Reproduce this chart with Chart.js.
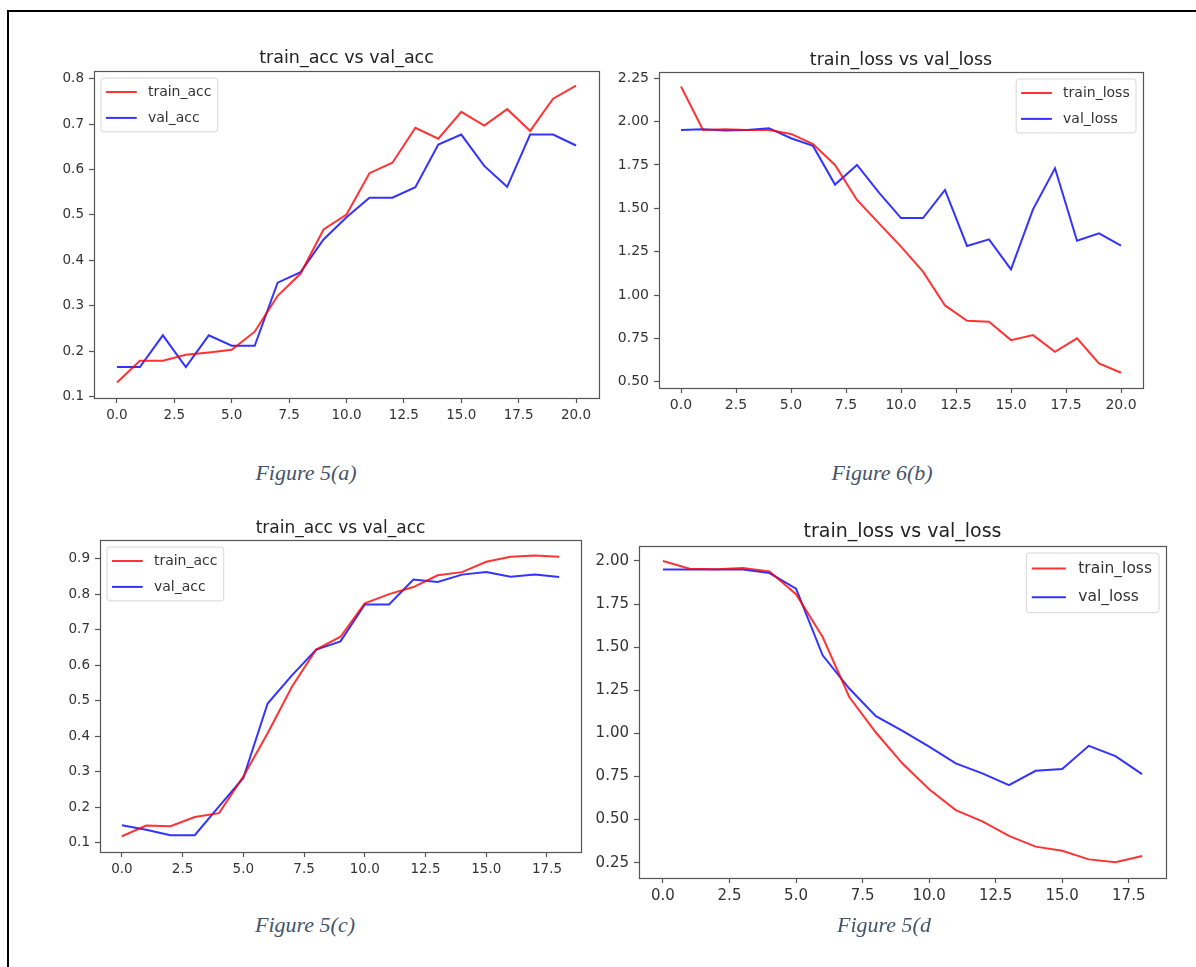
<!DOCTYPE html>
<html>
<head>
<meta charset="utf-8">
<script src="https://cdn.jsdelivr.net/npm/chart.js@4.4.1/dist/chart.umd.min.js"></script>
<style>
  body { margin: 0; background: #fff; width: 1196px; height: 967px; overflow: hidden; position: relative; }
  .frame { position: absolute; left: 7px; top: 10px; width: 1300px; height: 1100px;
           border-top: 2px solid #000; border-left: 2px solid #000; }
  canvas { position: absolute; }
  .cap { position: absolute; width: 300px; text-align: center; line-height: 30px;
         font-family: "Liberation Serif", "Times New Roman", serif; font-style: italic;
         font-size: 22px; color: #44546a; }
</style>
</head>
<body>
<div class="frame"></div>

<canvas id="c1"></canvas>
<canvas id="c2"></canvas>
<canvas id="c3"></canvas>
<canvas id="c4"></canvas>

<div class="cap" style="left:156px; top:458px;">Figure 5(a)</div>
<div class="cap" style="left:732px; top:458px;">Figure 6(b)</div>
<div class="cap" style="left:155px; top:910px;">Figure 5(c)</div>
<div class="cap" style="left:734px; top:910px;">Figure 5(d</div>

<script>
// ---- data ----
const epochs21 = [0, 1, 2, 3, 4, 5, 6, 7, 8, 9, 10, 11, 12, 13, 14, 15, 16, 17, 18, 19, 20]
const epochs19 = [0, 1, 2, 3, 4, 5, 6, 7, 8, 9, 10, 11, 12, 13, 14, 15, 16, 17, 18]

// figure 5(a)
const trainAccA = [0.131, 0.179, 0.179, 0.192, 0.197, 0.203, 0.243, 0.322, 0.371, 0.468, 0.501,
                   0.592, 0.615, 0.692, 0.668, 0.727, 0.697, 0.733, 0.685, 0.756, 0.785]
const valAccA   = [0.165, 0.165, 0.235, 0.165, 0.235, 0.212, 0.212, 0.351, 0.374, 0.446, 0.495,
                   0.538, 0.538, 0.561, 0.655, 0.677, 0.608, 0.562, 0.677, 0.677, 0.653]

// figure 6(b)
const trainLossB = [2.202, 1.952, 1.956, 1.952, 1.952, 1.929, 1.871, 1.750, 1.548, 1.413, 1.279,
                    1.135, 0.940, 0.852, 0.846, 0.740, 0.769, 0.673, 0.750, 0.606, 0.552]
const valLossB   = [1.952, 1.956, 1.948, 1.952, 1.962, 1.904, 1.860, 1.637, 1.750, 1.590, 1.444,
                    1.444, 1.606, 1.283, 1.321, 1.148, 1.494, 1.731, 1.313, 1.356, 1.285]

// figure 5(c)
const trainAccC = [0.119, 0.149, 0.147, 0.173, 0.184, 0.287, 0.409, 0.540, 0.645, 0.681,
                   0.775, 0.801, 0.821, 0.854, 0.863, 0.892, 0.906, 0.910, 0.906]
const valAccC   = [0.150, 0.137, 0.122, 0.122, 0.203, 0.283, 0.493, 0.572, 0.645, 0.668,
                   0.772, 0.772, 0.842, 0.835, 0.856, 0.863, 0.850, 0.856, 0.849]

// figure 5(d
const trainLossD = [2.000, 1.955, 1.952, 1.960, 1.940, 1.807, 1.559, 1.211, 1.005, 0.825,
                    0.676, 0.555, 0.490, 0.405, 0.343, 0.319, 0.269, 0.252, 0.289]
const valLossD   = [1.950, 1.950, 1.950, 1.950, 1.930, 1.840, 1.453, 1.260, 1.100, 1.015,
                    0.923, 0.826, 0.768, 0.700, 0.783, 0.793, 0.928, 0.868, 0.764]

// tick labels
const xTicks20 = [0, 2.5, 5, 7.5, 10, 12.5, 15, 17.5, 20]
const xTicks18 = [0, 2.5, 5, 7.5, 10, 12.5, 15, 17.5]
const yTicksAccA = [0.1, 0.2, 0.3, 0.4, 0.5, 0.6, 0.7, 0.8]
const yTicksAccC = [0.1, 0.2, 0.3, 0.4, 0.5, 0.6, 0.7, 0.8, 0.9]
const yTicksLossB = [0.50, 0.75, 1.00, 1.25, 1.50, 1.75, 2.00, 2.25]
const yTicksLossD = [0.25, 0.50, 0.75, 1.00, 1.25, 1.50, 1.75, 2.00]

const RED = 'rgba(255, 0, 0, 0.8)'
const BLUE = 'rgba(0, 0, 255, 0.8)'

Chart.defaults.font.family = '"DejaVu Sans", sans-serif'
Chart.defaults.color = '#333'

// matplotlib-like box round the axes + legend inside the plot
const mplBox = {
	id: 'mplBox',
	afterDatasetsDraw(chart, args, opts) {
		const {ctx, chartArea: a} = chart
		ctx.save()
		ctx.strokeStyle = '#555'
		ctx.lineWidth = 1.2
		ctx.strokeRect(Math.round(a.left) + 0.5, Math.round(a.top) + 0.5,
			Math.round(a.right - a.left), Math.round(a.bottom - a.top))

		const f = opts.size
		ctx.font = f + 'px "DejaVu Sans"'
		const sets = chart.data.datasets
		const textW = Math.max(...sets.map(d => ctx.measureText(d.label).width))
		const pad = 0.35 * f, hl = 2.2 * f, gap = 0.8 * f, rowH = 1.3 * f, sp = 0.55 * f
		const w = pad * 2 + hl + gap + textW + 0.1 * f
		const h = pad * 2 + sets.length * rowH + (sets.length - 1) * sp
		const x = opts.corner === 'right' ? a.right - opts.inset - w : a.left + opts.inset
		const y = a.top + opts.inset
		const r = 3
		ctx.beginPath()
		ctx.moveTo(x + r, y)
		ctx.lineTo(x + w - r, y)
		ctx.arcTo(x + w, y, x + w, y + r, r)
		ctx.lineTo(x + w, y + h - r)
		ctx.arcTo(x + w, y + h, x + w - r, y + h, r)
		ctx.lineTo(x + r, y + h)
		ctx.arcTo(x, y + h, x, y + h - r, r)
		ctx.lineTo(x, y + r)
		ctx.arcTo(x, y, x + r, y, r)
		ctx.closePath()
		ctx.fillStyle = 'rgba(255,255,255,0.8)'
		ctx.fill()
		ctx.strokeStyle = '#d6d6d6'
		ctx.lineWidth = 1
		ctx.stroke()

		sets.forEach((d, i) => {
			const cy = y + pad + rowH / 2 + i * (rowH + sp)
			ctx.strokeStyle = d.borderColor
			ctx.lineWidth = 2
			ctx.beginPath()
			ctx.moveTo(x + pad, cy)
			ctx.lineTo(x + pad + hl, cy)
			ctx.stroke()
			ctx.fillStyle = '#333'
			ctx.textBaseline = 'middle'
			ctx.textAlign = 'left'
			ctx.fillText(d.label, x + pad + hl + gap, cy)
		})
		ctx.restore()
	}
}

function makeChart(id, g, cfg) {
	const yw = 55, xh = 32, padR = 14, head = 45
	const canvas = document.getElementById(id)
	const top = g.T - head
	const left = g.L - yw
	const width = g.R - g.L + yw + padR
	const height = g.B + xh - top
	canvas.width = width
	canvas.height = height
	canvas.style.left = left + 'px'
	canvas.style.top = top + 'px'
	canvas.style.width = width + 'px'
	canvas.style.height = height + 'px'

	const lineH = g.titleSize * 1.2
	const padTop = g.titleY - top - lineH / 2
	const padBottom = head - padTop - lineH

	const tickGrid = {
		display: true, drawOnChartArea: false, drawTicks: true,
		tickLength: 5, tickColor: '#555', tickWidth: 1.2
	}

	return new Chart(canvas.getContext('2d'), {
		type: 'line',
		data: {
			datasets: [
				{ label: cfg.names[0], data: cfg.x.map((e, i) => ({x: e, y: cfg.series[0][i]})),
				  borderColor: RED, borderWidth: 2, pointRadius: 0, tension: 0 },
				{ label: cfg.names[1], data: cfg.x.map((e, i) => ({x: e, y: cfg.series[1][i]})),
				  borderColor: BLUE, borderWidth: 2, pointRadius: 0, tension: 0 }
			]
		},
		options: {
			responsive: false,
			animation: false,
			layout: { padding: { left: 0, right: padR, top: 0, bottom: 0 } },
			plugins: {
				legend: { display: false },
				tooltip: { enabled: false },
				title: {
					display: true, text: cfg.title, fullSize: false, color: '#222',
					font: { size: g.titleSize, weight: 'normal', lineHeight: 1.2 },
					padding: { top: padTop, bottom: padBottom }
				},
				mplBox: { size: g.legendSize, corner: g.corner, inset: 7 }
			},
			scales: {
				x: {
					type: 'linear', min: cfg.xRange[0], max: cfg.xRange[1],
					grid: tickGrid, border: { display: false },
					ticks: { font: { size: g.tickSize }, padding: 4, maxRotation: 0,
					         callback: v => v.toFixed(1) },
					afterBuildTicks: s => { s.ticks = cfg.xTicks.map(v => ({value: v})) },
					afterFit: s => { s.height = xh }
				},
				y: {
					type: 'linear', min: cfg.yRange[0], max: cfg.yRange[1],
					grid: tickGrid, border: { display: false },
					ticks: { font: { size: g.tickSize }, padding: 5,
					         callback: v => v.toFixed(cfg.yDec) },
					afterBuildTicks: s => { s.ticks = cfg.yTicks.map(v => ({value: v})) },
					afterFit: s => { s.width = yw }
				}
			}
		},
		plugins: [mplBox]
	})
}

makeChart('c1',
	{ L: 94, R: 599, T: 71, B: 398, titleY: 58, titleSize: 17.5, tickSize: 13.5, legendSize: 14, corner: 'left' },
	{ title: 'train_acc vs val_acc', names: ['train_acc', 'val_acc'], x: epochs21,
	  series: [trainAccA, valAccA], xRange: [-1, 21], yRange: [0.097, 0.817],
	  xTicks: xTicks20, yTicks: yTicksAccA, yDec: 1 })

makeChart('c2',
	{ L: 659, R: 1143, T: 72, B: 388, titleY: 60, titleSize: 17.5, tickSize: 14, legendSize: 14, corner: 'right' },
	{ title: 'train_loss vs val_loss', names: ['train_loss', 'val_loss'], x: epochs21,
	  series: [trainLossB, valLossB], xRange: [-1, 21], yRange: [0.464, 2.286],
	  xTicks: xTicks20, yTicks: yTicksLossB, yDec: 2 })

makeChart('c3',
	{ L: 100, R: 581, T: 540, B: 852, titleY: 529, titleSize: 17, tickSize: 13.5, legendSize: 14, corner: 'left' },
	{ title: 'train_acc vs val_acc', names: ['train_acc', 'val_acc'], x: epochs19,
	  series: [trainAccC, valAccC], xRange: [-0.9, 18.9], yRange: [0.0746, 0.9535],
	  xTicks: xTicks18, yTicks: yTicksAccC, yDec: 1 })

makeChart('c4',
	{ L: 639, R: 1166, T: 546, B: 878, titleY: 532, titleSize: 19, tickSize: 15, legendSize: 15.5, corner: 'right' },
	{ title: 'train_loss vs val_loss', names: ['train_loss', 'val_loss'], x: epochs19,
	  series: [trainLossD, valLossD], xRange: [-0.9, 18.9], yRange: [0.161, 2.087],
	  xTicks: xTicks18, yTicks: yTicksLossD, yDec: 2 })
</script>
</body>
</html>
